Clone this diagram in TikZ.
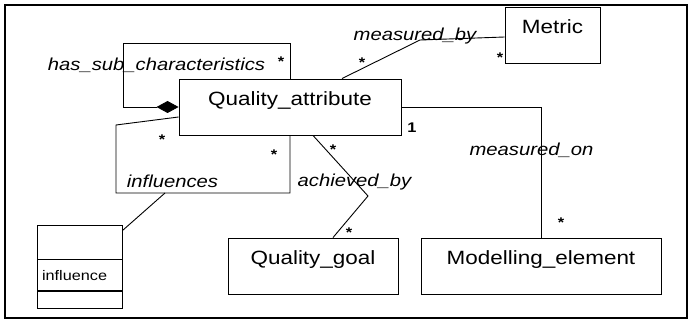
\documentclass[tikz,border=0pt]{standalone}
\usepackage{fontspec}
\setsansfont{Liberation Sans}[FakeStretch=1.17]
\renewcommand{\familydefault}{\sfdefault}
\usetikzlibrary{positioning}
\usetikzlibrary{arrows.meta}

\tikzset{
  cls/.style={draw, line width=0.9pt, inner sep=0pt, text height=27pt, text depth=29pt,
    minimum width=#1, font=\fontsize{19.2}{23}\selectfont},
  assoc/.style={draw, line width=0.9pt, inner ysep=0pt, inner xsep=5pt, text width=75pt,
    align=left, font=\fontsize{13.9}{16}\selectfont},
  role/.style={anchor=base, inner sep=0pt, font=\fontsize{17.3}{20}\selectfont\itshape},
  mult/.style={anchor=base, inner sep=0pt, font=\fontsize{14}{16}\selectfont\bfseries},
  link/.style={line width=0.9pt},
}

\begin{document}
\begin{tikzpicture}[x=1pt, y=-1pt]
  \useasboundingbox (0,0) rectangle (688,320);
  \draw[line width=2pt] (5,5) rectangle (687,318);

  \node[cls=222pt] (qa) at (290,107) {Quality\_attribute};
  \node[cls=95pt] (metric) at (552.5,35) {Metric};
  \node[cls=170pt] (qg) at (313,266) {Quality\_goal};
  \node[cls=240pt] (me) at (541,266) {Modelling\_element};

  \node[assoc, minimum height=34pt] (infl) at (79.5,242) {};
  \node[assoc, minimum height=31pt, below=0pt of infl] (inflattr) {influence};
  \node[assoc, minimum height=17pt, below=0pt of inflattr] (inflops) {};

  \coordinate (hsc) at (123,43);
  \coordinate (infa) at (116,125);
  \coordinate (infb) at (116,193);
  \coordinate (infc) at (165,193);
  \coordinate (ach) at (368,196);
  \coordinate (mby) at (420,40);

  \draw[link, -{Diamond[length=22pt,width=12pt]}] (qa.north) |- (hsc) |- (qa.west);
  \draw[link] ([yshift=-10pt]qa.west) -- (infa) -- (infb) -| (qa.south);
  \draw[link] (infc) -- ([yshift=-6pt]infl.north east);
  \draw[link] ([xshift=23pt]qa.south) -- (ach) -- ([xshift=20pt]qg.north);
  \draw[link] (qa.east) -| (me.north);
  \draw[link] ([xshift=52pt]qa.north) -- (mby) -- ([yshift=-2pt]metric.west);

  \node[role] (hsclbl) at (156.5,71) {has\_sub\_characteristics};
  \node[role] (mbylbl) at (415,41) {measured\_by};
  \node[role] (monlbl) at (531.5,156) {measured\_on};
  \node[role] (achlbl) at (354.5,187) {achieved\_by};
  \node[role] (inflbl) at (172.5,188) {influences};

  \node[mult] (m1) at (281,67) {*};
  \node[mult] (m2) at (162,145) {*};
  \node[mult] (m3) at (274,160) {*};
  \node[mult] (m4) at (333,155) {*};
  \node[mult] (m5) at (349,238) {*};
  \node[mult] (m6) at (362,68) {*};
  \node[mult] (m7) at (500,63) {*};
  \node[mult] (m8) at (561,228) {*};
  \node[mult] (one) at (412,133) {1};
\end{tikzpicture}
\end{document}
